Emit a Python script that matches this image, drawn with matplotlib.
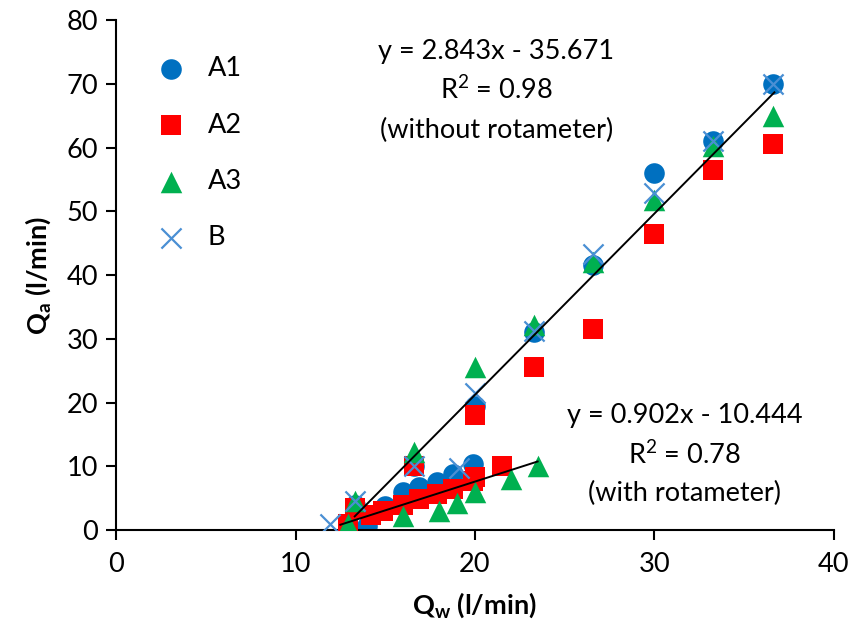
import numpy as np
import matplotlib.pyplot as plt

plt.rcParams['font.family'] = ['Lato', 'DejaVu Sans']
plt.rcParams['mathtext.fontset'] = 'custom'
plt.rcParams['mathtext.rm'] = 'Lato'
plt.rcParams['mathtext.bf'] = 'Lato:bold'

# A1 - blue circles
a1_x = [13.3, 16.6, 20.0, 23.3, 26.6, 30.0, 33.3, 36.6,
        14.0, 15.0, 16.0, 16.9, 17.9, 18.8, 19.9]
a1_y = [4.0, 10.0, 19.5, 31.0, 41.6, 56.0, 61.0, 70.0,
        0.7, 3.8, 6.0, 6.8, 7.6, 8.8, 10.3]

# A2 - red squares
a2_x = [13.3, 16.6, 20.0, 23.3, 26.6, 30.0, 33.3, 36.6,
        12.9, 14.2, 14.9, 16.0, 16.9, 17.9, 18.8, 19.9, 20.0, 21.5]
a2_y = [3.5, 10.0, 18.0, 25.5, 31.5, 46.5, 56.5, 60.5,
        1.0, 2.4, 3.0, 4.0, 4.8, 5.6, 6.5, 7.7, 8.3, 10.0]

# A3 - green triangles
a3_x = [13.3, 16.6, 20.0, 23.3, 26.6, 30.0, 33.3, 36.6,
        12.9, 16.0, 18.0, 19.0, 20.0, 22.0, 23.5]
a3_y = [4.6, 12.2, 25.5, 32.2, 42.0, 51.8, 60.3, 65.0,
        1.0, 2.2, 3.0, 4.2, 6.0, 8.0, 10.0]

# B - crosses
b_x = [13.3, 16.6, 20.0, 23.3, 26.6, 30.0, 33.3, 36.6, 11.9, 19.1]
b_y = [4.5, 10.0, 21.5, 31.3, 43.3, 52.8, 61.0, 70.0, 1.0, 9.8]

# trendlines
fit1 = (2.843, -35.671)
fit1_range = [13.3, 36.7]
fit2 = (0.902, -10.444)
fit2_range = [12.5, 23.5]

fig = plt.figure(figsize=(8.48, 6.28), dpi=100)
ax = fig.add_axes([0.137, 0.156, 0.846, 0.812])

ax.scatter(a1_x, a1_y, s=220, marker='o', color='#0070C0', linewidths=0, label='A1', zorder=2)
ax.scatter(a2_x, a2_y, s=210, marker='s', color='#FF0000', linewidths=0, label='A2', zorder=3)
ax.scatter(a3_x, a3_y, s=240, marker='^', color='#00B050', linewidths=0, label='A3', zorder=4)
ax.scatter(b_x, b_y, s=210, marker='x', color='#4A8FD4', linewidths=1.6, label='B', zorder=5)

xx = np.array(fit1_range)
ax.plot(xx, fit1[0] * xx + fit1[1], color='black', lw=1.4, zorder=6)
xx = np.array(fit2_range)
ax.plot(xx, fit2[0] * xx + fit2[1], color='black', lw=1.4, zorder=6)

fs = 19.5
ax.text(21.2, 75.0, 'y = 2.843x - 35.671', ha='center', va='center', fontsize=fs)
ax.text(21.2, 69.0, 'R$^2$ = 0.98', ha='center', va='center', fontsize=fs)
ax.text(21.2, 62.7, '(without rotameter)', ha='center', va='center', fontsize=fs)
ax.text(31.7, 18.0, 'y = 0.902x - 10.444', ha='center', va='center', fontsize=fs)
ax.text(31.7, 11.8, 'R$^2$ = 0.78', ha='center', va='center', fontsize=fs)
ax.text(31.7, 5.8, '(with rotameter)', ha='center', va='center', fontsize=fs)

ax.set_xlim(0, 40)
ax.set_ylim(0, 80)
ax.set_xticks([0, 10, 20, 30, 40])
ax.set_yticks(np.arange(0, 81, 10))
ax.tick_params(labelsize=fs, direction='out', length=7, width=1.5)
ax.tick_params(axis='y', pad=6)
ax.tick_params(axis='x', pad=9)
ax.spines['top'].set_visible(False)
ax.spines['right'].set_visible(False)
ax.spines['left'].set_linewidth(1.5)
ax.spines['bottom'].set_linewidth(1.5)

ax.set_xlabel(r'Q$_{\mathbf{w}}$ (l/min)', fontsize=fs, fontweight='bold', labelpad=9)
ax.set_ylabel(r'Q$_{\mathbf{a}}$ (l/min)', fontsize=fs, fontweight='bold', labelpad=10)

ax.legend(loc='upper left', bbox_to_anchor=(0.033, 0.95), frameon=False, fontsize=fs,
          labelspacing=1.15, handlelength=1.5, handletextpad=0.6, scatterpoints=1,
          borderaxespad=0)

plt.savefig('out.png', dpi=100)
